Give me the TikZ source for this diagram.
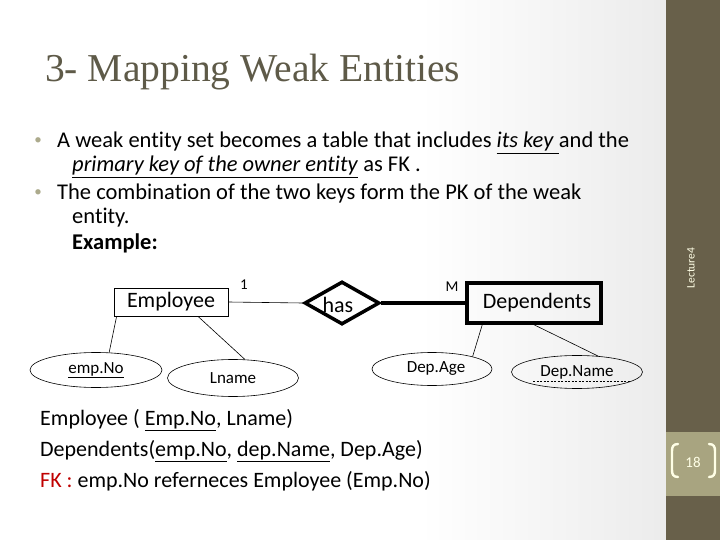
\documentclass[tikz,border=0pt]{standalone}
\usepackage{fontspec}
\setmainfont{Carlito}[Ligatures=NoCommon]
\newfontfamily\titlefont{Liberation Serif}
\usetikzlibrary{shapes.geometric,calc}
\definecolor{sidebar}{RGB}{104,96,74}
\definecolor{numbox}{RGB}{168,164,128}
\definecolor{titlecol}{RGB}{94,90,72}
\definecolor{bulletcol}{RGB}{172,170,140}
\definecolor{fkred}{RGB}{192,0,0}
\definecolor{cream}{RGB}{255,255,230}
\definecolor{bgright}{RGB}{236,236,236}
\tikzset{
  body/.style={anchor=base west, inner sep=0pt, font=\fontsize{22.5}{26}\selectfont},
  rel/.style={anchor=base west, inner sep=0pt, font=\fontsize{22}{26}\selectfont},
  bul/.style={inner sep=0pt, text=bulletcol, font=\fontsize{15}{16}\selectfont},
  entity/.style={draw, line width=0.8pt, inner sep=0pt, font=\fontsize{22}{24}\selectfont},
  attr/.style={ellipse, draw, line width=0.6pt, inner sep=0pt, font=\fontsize{17}{19}\selectfont},
  card/.style={inner sep=0pt, font=\fontsize{15}{16}\selectfont},
  conn/.style={line width=0.6pt},
}
\begin{document}
\begin{tikzpicture}[x=1pt,y=-1pt]
\useasboundingbox (0,0) rectangle (720,540);
% background
\fill[white] (0,0) rectangle (420,540);
\shade[left color=white,right color=bgright] (420,0) rectangle (660,540);
\fill[bgright] (659,0) rectangle (666,540);
\fill[sidebar] (666,0) rectangle (720,540);
\fill[numbox] (666,432) rectangle (720,496);
\node[rotate=90, inner sep=0pt, text=cream, font=\fontsize{11.5}{13}\selectfont] (lect) at (691,268) {Lecture4};
\node[inner sep=0pt, text=cream, font=\fontsize{15}{18}\selectfont] (pnum) at (693,462) {18};
\draw[cream, line width=2.4pt, line cap=round] (678,444) .. controls (673,444) and (672,447) .. (672,451) -- (672,470) .. controls (672,474) and (673,477) .. (678,477);
\draw[cream, line width=2.4pt, line cap=round] (709,444) .. controls (714,444) and (715,447) .. (715,451) -- (715,470) .. controls (715,474) and (714,477) .. (709,477);
% title
\node[anchor=base west, inner sep=0pt, text=titlecol, font=\titlefont\fontsize{39.5}{44}\selectfont] (title) at (45,82) {3- Mapping Weak Entities};
% bullets
\node[bul] (b1) at (38,141) {\textbullet};
\node[body] (l1) at (57,148) {A weak entity set becomes a table that includes \underline{\textit{its key }}and the};
\node[body] (l2) at (72,172) {\underline{\textit{primary key of the owner entity}} as FK .};
\node[bul] (b2) at (38,193) {\textbullet};
\node[body] (l3) at (57,200) {The combination of the two keys form the PK of the weak};
\node[body] (l4) at (72,224) {entity.};
\node[body] (l5) at (72,249) {\textbf{Example:}};
% ER diagram
\node[entity, minimum width=114pt, minimum height=28pt] (emp) at (171,302) {Employee};
\node[entity, line width=3.5pt, minimum width=134pt, minimum height=40pt] (dep) at (534,303) {\hspace*{6pt}\raisebox{-2pt}{Dependents}};
\node[diamond, draw, line width=3.5pt, minimum width=75pt, minimum height=43pt, inner sep=0pt] (has) at (342,303) {};
\node[inner sep=0pt, font=\fontsize{22}{24}\selectfont] (hastext) at (338,305) {has};
\node[card] (c1) at (244,285) {1};
\node[card] (cm) at (452,287) {M};
\draw[conn] (emp.east) -- (has.west);
\draw[line width=3.5pt] (has.east) -- (dep.west);
\node[attr, minimum width=132pt, minimum height=35pt] (empno) at (96,370) {\underline{emp.No}};
\node[attr, minimum width=131pt, minimum height=37pt] (lname) at (233,378) {Lname};
\node[attr, minimum width=120pt, minimum height=33pt] (depage) at (432,369) {\hspace*{8pt}Dep.Age};
\node[attr, minimum width=131pt, minimum height=33pt] (depname) at (577,372) {Dep.Name};
\draw[conn, dashed, dash pattern=on 2pt off 1.5pt] ($(depname.center)+(-44,9)$) -- ($(depname.center)+(53,9)$);
\draw[conn] ($(emp.south west)+(3,0)$) -- (empno.53);
\draw[conn] ($(emp.south)+(27,0)$) -- (lname.57);
\draw[conn] ($(dep.south west)+(17,0)$) -- (depage.17);
\draw[conn] (dep.south) -- (depname.37);
% relations
\node[rel] (r1) at (40,425) {Employee ( \underline{Emp.No}, Lname)};
\node[rel] (r2) at (40,456) {Dependents(\underline{emp.No}, \underline{dep.Name}, Dep.Age)};
\node[rel] (r3) at (40,487) {\textcolor{fkred}{FK :} emp.No referneces Employee (Emp.No)};
\end{tikzpicture}
\end{document}
